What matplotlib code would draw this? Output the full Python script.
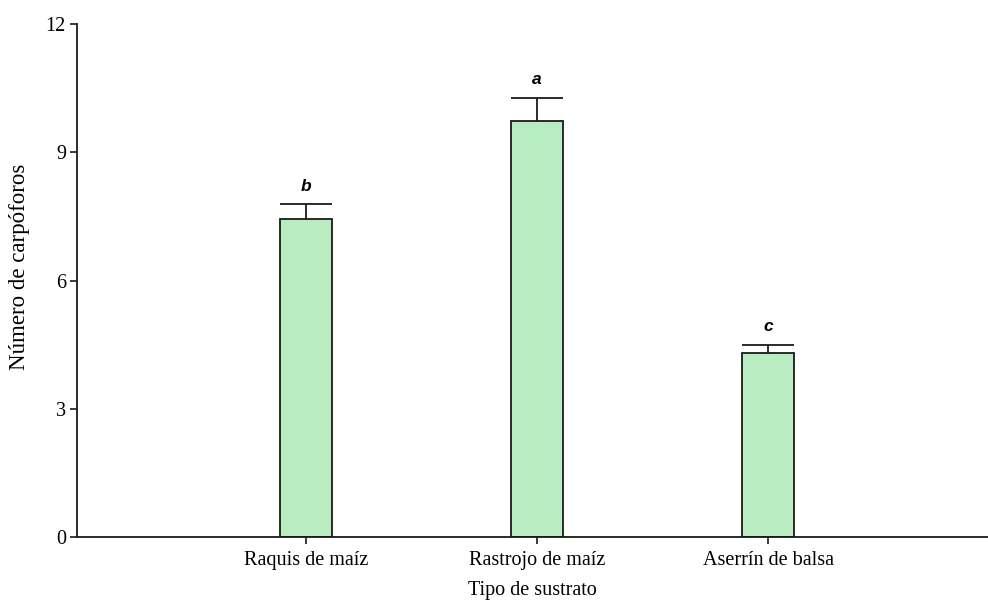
import numpy as np
import matplotlib
matplotlib.use("Agg")
import matplotlib.pyplot as plt

# mean number of fruiting bodies per substrate, upper error and Tukey letters
sustratos = ["Raquis de maíz", "Rastrojo de maíz", "Aserrín de balsa"]
medias = [7.44, 9.74, 4.31]
error = [0.34, 0.54, 0.18]
letras = ["b", "a", "c"]

plt.rcParams["font.family"] = ["Liberation Serif", "DejaVu Serif"]

fig = plt.figure(figsize=(9.88, 6.01), dpi=100)
ax = fig.add_axes([0.078, 0.1065, 0.922, 0.8535])

x = np.arange(1, len(sustratos) + 1)
ancho = 0.225
ax.bar(x, medias, width=ancho, color="#b9ecc1", edgecolor="#1a1a1a",
       linewidth=1.3, zorder=2)

# one-sided error bars: stem from the bar top and a cap as wide as the bar
tope = np.array(medias) + np.array(error)
ax.vlines(x, medias, tope, color="#1a1a1a", linewidth=1.3, zorder=3)
ax.hlines(tope, x - ancho / 2, x + ancho / 2, color="#1a1a1a",
          linewidth=1.3, zorder=3)

for xi, t, l in zip(x, tope, letras):
    ax.text(xi, t + 0.32, l, ha="center", va="baseline", fontsize=12.5,
            fontweight="bold", fontstyle="italic", family="Liberation Sans")

ax.set_xlim(0.01, 3.95)
ax.set_ylim(0, 12)
ax.set_yticks([0, 3, 6, 9, 12])
ax.set_xticks(x)
ax.set_xticklabels(sustratos)
ax.tick_params(axis="both", direction="out", length=5, width=1.2,
               labelsize=14.5, colors="#1a1a1a", labelcolor="black")
ax.tick_params(axis="x", pad=5)
ax.tick_params(axis="y", pad=3)

for s in ["top", "right"]:
    ax.spines[s].set_visible(False)
for s in ["left", "bottom"]:
    ax.spines[s].set_linewidth(1.3)
    ax.spines[s].set_color("#1a1a1a")

ax.set_xlabel("Tipo de sustrato", fontsize=14.5, labelpad=8)
ax.set_ylabel("Número de carpóforos", fontsize=16.5)
ax.yaxis.set_label_coords(-0.052, 0.526)

fig.savefig("out.png", dpi=100)
